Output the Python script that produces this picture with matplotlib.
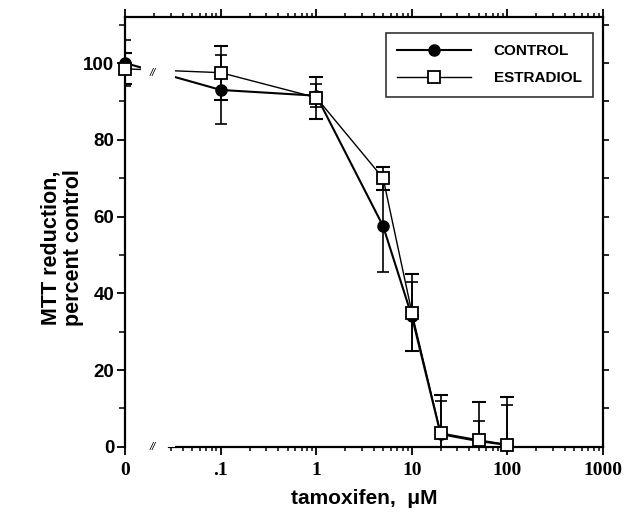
import numpy as np
import matplotlib
matplotlib.use("Agg")
from matplotlib import pyplot as plt
from matplotlib.ticker import FixedLocator, NullFormatter, LogLocator

# tamoxifen dose (uM); 0 is drawn at the left edge of the broken log axis
doses = [0, 0.1, 1, 5, 10, 20, 50, 100]
control = [100, 93, 91.5, 57.5, 34, 3.3, 1.5, 0.5]
control_err = [6, 9, 3, 12, 9, 8.7, 5.3, 10.5]
estradiol = [98.5, 97.5, 91, 70, 35, 3.6, 1.8, 0.6]
estradiol_err = [4, 7, 5.5, 3, 10, 10, 10, 12.5]

x_ticks = [0.01, 0.1, 1, 10, 100, 1000]
x_labels = ["0", ".1", "1", "10", "100", "1000"]
y_ticks = [0, 20, 40, 60, 80, 100]

ZERO_POS = 0.01  # where dose 0 sits on the log axis

sans = "Liberation Sans"
serif = "Liberation Serif"

x = np.where(np.array(doses) == 0, ZERO_POS, doses)

fig = plt.figure(figsize=(6.36, 5.16), dpi=100)
ax = fig.add_axes([0.197, 0.134, 0.751, 0.833])
ax.set_xscale("log")
ax.set_xlim(0.01, 1000)
ax.set_ylim(0, 112)

# error bars (clipped at the axis), then lines + markers
ax.errorbar(x, control, yerr=control_err, fmt="none", ecolor="black",
            elinewidth=1.2, capsize=4, capthick=1.2, zorder=3)
ax.errorbar(x, estradiol, yerr=estradiol_err, fmt="none", ecolor="black",
            elinewidth=1.2, capsize=5, capthick=1.5, zorder=3)
ax.plot(x, control, "-o", color="black", lw=1.5, ms=8, mfc="black",
        label="CONTROL", zorder=4, clip_on=False)
ax.plot(x, estradiol, "-s", color="black", lw=1.0, ms=8.5, mfc="white",
        mec="black", mew=1.3, label="ESTRADIOL", zorder=5, clip_on=False)

# break in the lines between 0 and .1
ax.axvspan(0.0145, 0.033, color="white", zorder=5.5, lw=0)
ax.text(0.0195, 97.5, "//", ha="center", va="center", fontsize=8,
        style="italic", family=sans, zorder=6)
ax.text(0.0195, 0, "//", ha="center", va="center", fontsize=8,
        style="italic", family=sans, zorder=6, clip_on=False)

# spines
for s in ax.spines.values():
    s.set_linewidth(1.6)
ax.spines["bottom"].set_bounds(0.029, 1000)
ax.spines["top"].set_visible(False)
ax.spines["right"].set_visible(False)

# x ticks (bottom)
ax.xaxis.set_major_locator(FixedLocator(x_ticks))
ax.set_xticklabels(x_labels, family=serif, fontweight="bold", fontsize=14)
minor = [m * 10.0 ** e for e in range(-2, 3) for m in range(2, 10)]
minor = [v for v in minor if v >= 0.03]
ax.xaxis.set_minor_locator(FixedLocator(minor))
ax.xaxis.set_minor_formatter(NullFormatter())
ax.tick_params(axis="x", which="major", direction="out", length=6, width=1.3, pad=5)
ax.tick_params(axis="x", which="minor", direction="out", length=3, width=1.1)
ax.xaxis.get_major_ticks()[0].tick1line.set_visible(False)

# y ticks (left)
ax.set_yticks(y_ticks)
ax.set_yticklabels([str(v) for v in y_ticks], family=sans, fontweight="bold",
                   fontsize=13.5)
ax.yaxis.set_minor_locator(FixedLocator([10, 30, 50, 70, 90, 110]))
ax.tick_params(axis="y", which="major", direction="out", length=6, width=1.3, pad=2)
ax.tick_params(axis="y", which="minor", direction="out", length=4, width=1.1)

# top axis with log ticks
ax_top = ax.twiny()
ax_top.set_xscale("log")
ax_top.set_xlim(ax.get_xlim())
ax_top.xaxis.set_major_locator(FixedLocator(x_ticks))
ax_top.xaxis.set_minor_locator(LogLocator(base=10, subs=np.arange(2, 10)))
ax_top.xaxis.set_major_formatter(NullFormatter())
ax_top.xaxis.set_minor_formatter(NullFormatter())
ax_top.tick_params(axis="x", which="major", direction="out", length=6, width=1.3)
ax_top.tick_params(axis="x", which="minor", direction="out", length=3, width=1.1)
for side in ["bottom", "left", "right"]:
    ax_top.spines[side].set_visible(False)
ax_top.spines["top"].set_linewidth(1.6)

# right axis with short ticks
ax_right = ax.twinx()
ax_right.set_ylim(ax.get_ylim())
ax_right.set_yticks(np.arange(10, 111, 10))
ax_right.set_yticklabels([])
ax_right.tick_params(axis="y", direction="out", length=4, width=1.2)
for side in ["bottom", "left", "top"]:
    ax_right.spines[side].set_visible(False)
ax_right.spines["right"].set_linewidth(1.6)

ax.set_xlabel("tamoxifen,  \u03bcM", family=sans, fontweight="bold",
              fontsize=15, labelpad=7)
ax.set_ylabel("MTT reduction,\npercent control", family=sans,
              fontweight="bold", fontsize=15.5, linespacing=1.05)
ax.yaxis.set_label_coords(-0.087, 0.463)

leg = ax_right.legend(*ax.get_legend_handles_labels(), loc="upper right",
                      bbox_to_anchor=(0.979, 0.963), borderaxespad=0,
                      frameon=True, fancybox=False, edgecolor="black",
                      handlelength=4.8, handletextpad=1.5, borderpad=0.75,
                      labelspacing=0.85,
                      prop={"family": sans, "weight": "bold", "size": 11})
leg.get_frame().set_linewidth(1.2)

fig.savefig("out.png", dpi=100)
